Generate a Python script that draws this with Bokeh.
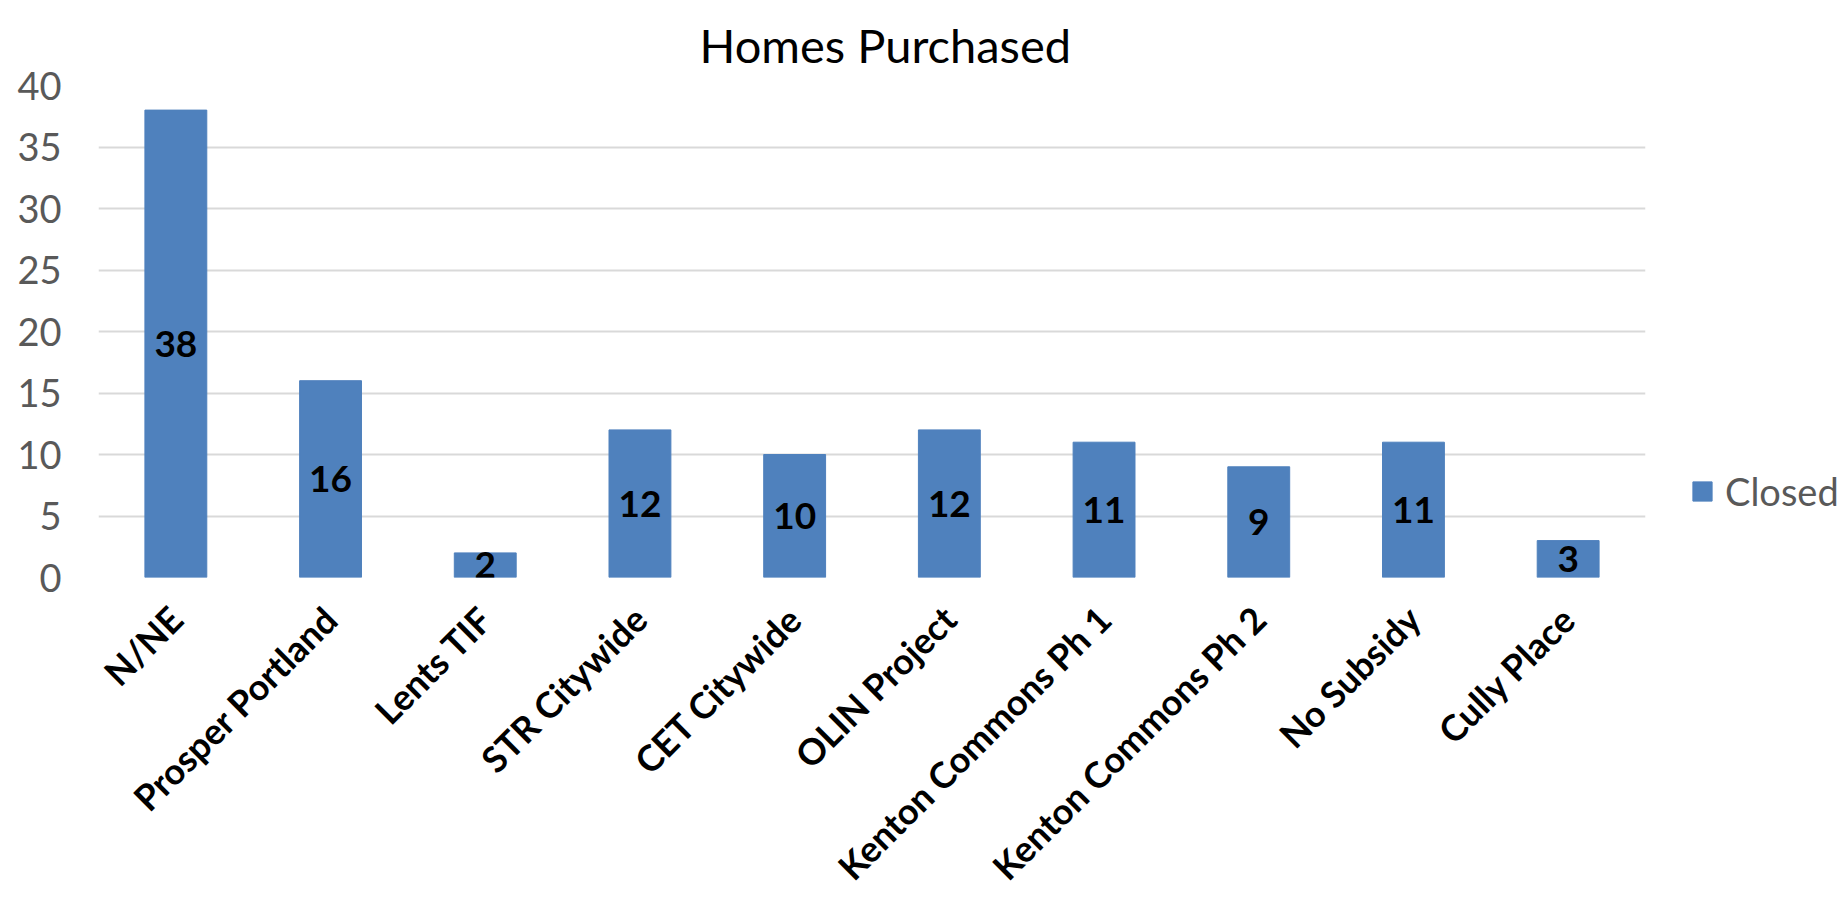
from bokeh.plotting import figure
from bokeh.models import ColumnDataSource, Legend, LegendItem, Title, FixedTicker
from bokeh.core.properties import value
from bokeh.embed import file_html
from bokeh.resources import INLINE
import math

categories = ["N/NE", "Prosper Portland", "Lents TIF", "STR Citywide", "CET Citywide",
              "OLIN Project", "Kenton Commons Ph 1", "Kenton Commons Ph 2", "No Subsidy", "Cully Place"]
closed = [38, 16, 2, 12, 10, 12, 11, 9, 11, 3]
y_ticks = [0, 5, 10, 15, 20, 25, 30, 35, 40]
series_name = "Closed"
chart_title = "Homes Purchased"

FONT = "Lato"
BAR = "#4F81BD"
GRID = "#D9D9D9"
GRAY = "#595959"

src = ColumnDataSource(dict(
    cat=categories,
    val=closed,
    mid=[v / 2 for v in closed],
    lbl=[str(v) for v in closed],
))

p = figure(x_range=categories, y_range=(0, 40),
           frame_width=1547, frame_height=492,
           min_border_left=98, min_border_right=184, min_border_top=85, min_border_bottom=325,
           output_backend="svg", toolbar_location=None, title=None)

bars = p.vbar(x="cat", top="val", width=0.4, source=src, fill_color=BAR, line_color=BAR)
p.text(x="cat", y="mid", text="lbl", source=src, text_align="center", text_baseline="middle",
       text_font=value(FONT), text_font_style="bold", text_font_size="37px", text_color="black")

t = Title(text=chart_title, align="left", offset=601, text_font=FONT,
          text_font_size="47px", text_font_style="normal", text_color="black", standoff=26)
p.add_layout(t, "above")

p.outline_line_color = None
p.xgrid.grid_line_color = None
p.ygrid.grid_line_color = GRID
p.ygrid.grid_line_width = 2
p.yaxis.ticker = FixedTicker(ticks=y_ticks)

for ax in (p.xaxis[0], p.yaxis[0]):
    ax.axis_line_color = None
    ax.major_tick_line_color = None
    ax.minor_tick_line_color = None
    ax.major_tick_out = 0
    ax.major_tick_in = 0

p.yaxis.major_label_text_font = FONT
p.yaxis.major_label_text_font_size = "38px"
p.yaxis.major_label_text_color = GRAY
p.yaxis.major_label_standoff = 37

p.xaxis.major_label_orientation = math.pi / 4
p.xaxis.major_label_text_font = FONT
p.xaxis.major_label_text_font_size = "36px"
p.xaxis.major_label_text_font_style = "bold"
p.xaxis.major_label_text_color = "black"
p.xaxis.major_label_standoff = 35

legend = Legend(items=[LegendItem(label=series_name, renderers=[bars])],
                location=(45, 63), margin=0, padding=0, border_line_color=None,
                background_fill_alpha=0, glyph_width=24, glyph_height=24,
                label_text_font=FONT, label_text_font_size="38px", label_text_color=GRAY,
                label_standoff=11, label_height=24)
p.add_layout(legend, "right")

open("out.html", "w").write(file_html(p, INLINE))
